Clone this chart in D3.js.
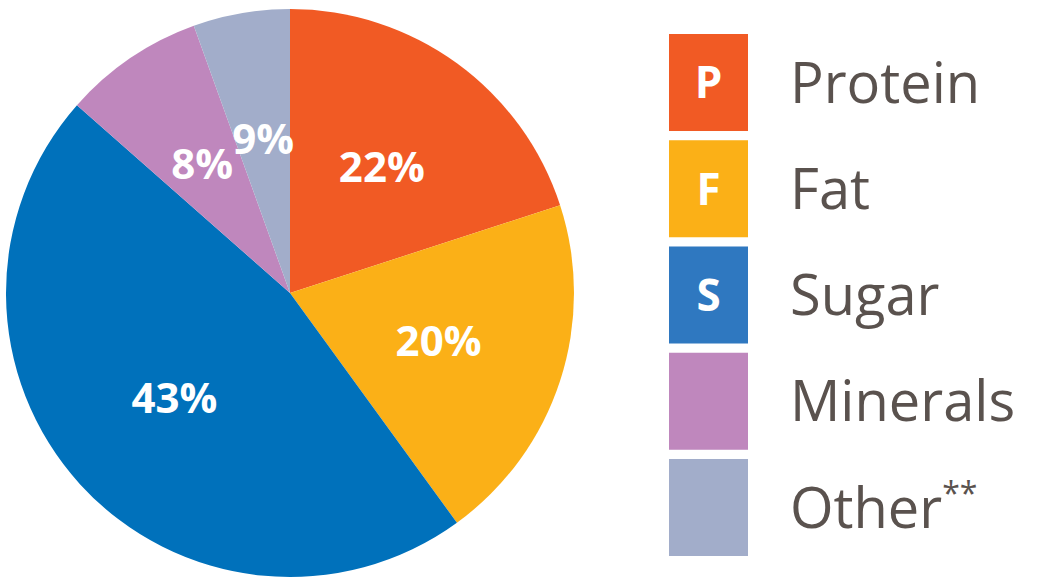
<!DOCTYPE html>
<html><head><meta charset="utf-8">
<script src="https://cdn.jsdelivr.net/npm/d3@7"></script>
<style>body{margin:0;background:#fff}</style>
</head><body><div id="chart"></div>
<script>
// slice shares, labels as printed
let names = ["Protein", "Fat", "Sugar", "Minerals", "Other"],
    shares = [20, 20, 46.5, 8, 5.5],
    labels = ["22%", "20%", "43%", "8%", "9%"],
    letters = ["P", "F", "S", "", ""],
    colors = ["#f15a24", "#fbb017", "#0071bb", "#bf87bd", "#a2adca"],
    legendColors = ["#f15a24", "#fbb017", "#2f78c0", "#bf87bd", "#a2adca"]

let width = 1044, height = 586,
    svg = d3.select("#chart").append("svg").attr("width", width).attr("height", height),
    r = 284

let pie = d3.pie().sort(null).value(d => d)
let arc = d3.arc().innerRadius(0).outerRadius(r)
let labelArc = d3.arc().innerRadius(r * 0.55).outerRadius(r * 0.55)

let g = svg.append("g").attr("transform", "translate(290,293)")
let arcs = pie(shares)
g.selectAll("path").data(arcs).enter().append("path")
    .attr("d", arc).attr("fill", (d, i) => colors[i])

g.selectAll("text").data(arcs).enter().append("text")
    .attr("transform", d => "translate(" + labelArc.centroid(d) + ")")
    .attr("text-anchor", "middle").attr("dy", "0.36em")
    .attr("fill", "#fff").attr("font-family", "Open Sans, sans-serif")
    .attr("font-weight", "bold").attr("font-size", 42)
    .text((d, i) => labels[i])

//LEGEND
let y = d3.scaleBand().domain(names).range([34, 556]).paddingInner(0.4 / 4.6)
let leg = svg.append("g").selectAll("g").data(names).enter().append("g")
    .attr("transform", d => "translate(669," + y(d) + ")")
leg.append("rect").attr("width", 79).attr("height", y.bandwidth())
    .attr("fill", (d, i) => legendColors[i])
leg.append("text").attr("x", 39.5).attr("y", y.bandwidth() / 2).attr("dy", "0.36em")
    .attr("text-anchor", "middle").attr("fill", "#fff")
    .attr("font-family", "Open Sans, sans-serif").attr("font-weight", "bold").attr("font-size", 44)
    .text((d, i) => letters[i])
let t = leg.append("text").attr("x", 121).attr("y", y.bandwidth() / 2).attr("dy", "0.36em")
    .attr("fill", "#5a524e").attr("font-family", "Open Sans, sans-serif").attr("font-size", 56)
    .text(d => d)
t.filter(d => d === "Other").append("tspan").attr("dy", "-0.7em").attr("font-size", 32).text("**")
</script></body></html>
